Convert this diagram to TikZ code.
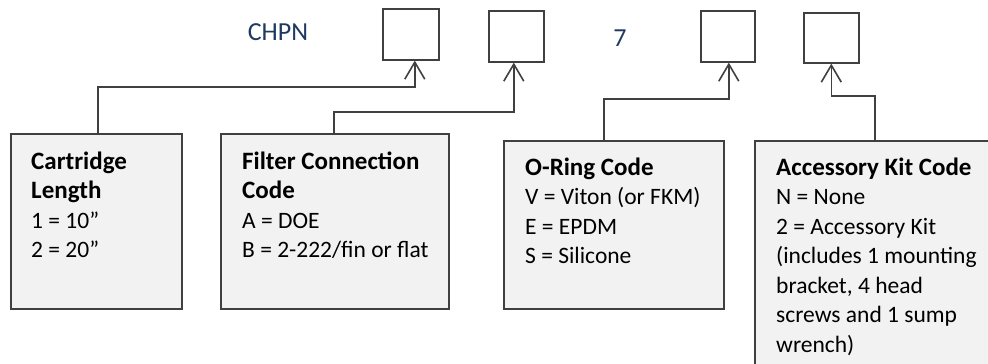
\documentclass[tikz,border=0pt]{standalone}
\usepackage{fontspec}
\setmainfont{Carlito}
\usetikzlibrary{arrows.meta}
\definecolor{lineg}{HTML}{404040}
\definecolor{boxfill}{HTML}{F2F2F2}
\definecolor{navy}{HTML}{1F3A5F}
\newcommand{\hd}[1]{{\fontsize{25}{29.5}\selectfont\bfseries #1}}
\begin{document}
\begin{tikzpicture}[x=1pt,y=-1pt,
  codebox/.style={draw=lineg, line width=1.6pt, fill=white, minimum width=55pt, minimum height=51pt, inner sep=0pt, anchor=north west},
  infobox/.style={draw=lineg, line width=1.6pt, fill=boxfill, inner sep=0pt, anchor=north west},
  conn/.style={draw=lineg, line width=1.6pt, -{Straight Barb[length=17pt,width=20pt,line width=1.6pt]}},
  infotext/.style={anchor=north west, align=left, inner sep=0pt, font=\fontsize{23.5}{29.5}\selectfont},
  hdr/.style={font=\fontsize{26}{30}\selectfont, text=navy, inner sep=0pt, anchor=base}
]
\useasboundingbox (0,0) rectangle (988,364);
\begin{scope}
\clip (0,0) rectangle (988,364);
% code boxes
\node[codebox, minimum width=56pt] (b1) at (382,8) {};
\node[codebox] (b2) at (488,10) {};
\node[codebox, minimum width=54pt] (b3) at (700,10) {};
\node[codebox, minimum height=50pt] (b4) at (803,12) {};
% info boxes
\node[infobox, minimum width=171pt, minimum height=175pt] (cl) at (10,133) {};
\node[infobox, minimum width=228pt, minimum height=175pt] (fc) at (220,133) {};
\node[infobox, minimum width=220pt, minimum height=168pt] (or) at (503,140) {};
\node[infobox, minimum width=260pt, minimum height=260pt] (ak) at (754,140) {};
% header texts
\node[hdr] (chpn) at (278,40) {CHPN};
\node[hdr] (seven) at (620,46) {7};
% box texts
\node[infotext] (clt) at (31,150) {\rule{0pt}{19pt}\hd{Cartridge}\\\hd{Length}\\1 = 10”\\2 = 20”};
\node[infotext] (fct) at (242,150) {\rule{0pt}{19pt}\hd{Filter Connection}\\\hd{Code}\\A = DOE\\B = 2-222/fin or flat};
\node[infotext] (ort) at (525,156) {\rule{0pt}{19pt}\hd{O-Ring Code}\\V = Viton (or FKM)\\E = EPDM\\S = Silicone};
\node[infotext] (akt) at (776,156) {\rule{0pt}{19pt}\hd{Accessory Kit Code}\\N = None\\2 = Accessory Kit\\(includes 1 mounting\\bracket, 4 head\\screws and 1 sump\\wrench)};
% connectors
\draw[conn] ([xshift=1.5pt]cl.north) |- ([xshift=4pt]b1.south |- 0,87) -- ([xshift=4pt]b1.south);
\draw[conn] ([xshift=-1pt]fc.north) |- ([xshift=-2.5pt]b2.south |- 0,112) -- ([xshift=-2.5pt]b2.south);
\draw[conn] ([xshift=-10pt]or.north) |- ([xshift=1pt]b3.south |- 0,99) -- ([xshift=1pt]b3.south);
\draw[conn] ([xshift=-10pt]ak.north) |- (b4.south |- 0,96) -- (b4.south);
\end{scope}
\end{tikzpicture}
\end{document}
